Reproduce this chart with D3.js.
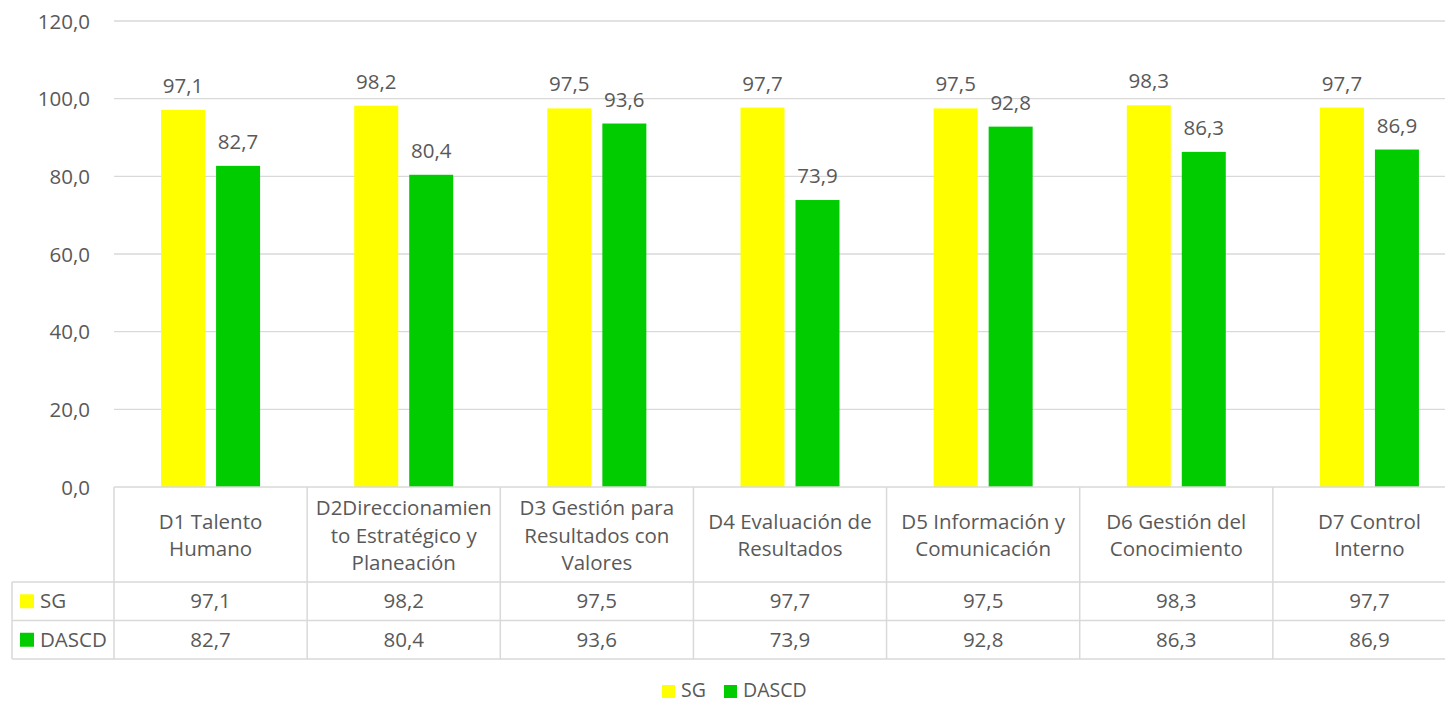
<!DOCTYPE html>
<html><head><meta charset="utf-8">
<script src="https://cdn.jsdelivr.net/npm/d3@7"></script>
<style>
html,body{margin:0;padding:0;background:#fff;overflow:hidden}
text{font-family:"Open Sans",sans-serif;fill:#595959}
</style></head><body>
<svg id="c" width="1445" height="703"></svg>
<script>
const categories = [
  "D1 Talento\nHumano",
  "D2Direccionamien\nto Estratégico y\nPlaneación",
  "D3 Gestión para\nResultados con\nValores",
  "D4 Evaluación de\nResultados",
  "D5 Información y\nComunicación",
  "D6 Gestión del\nConocimiento",
  "D7 Control\nInterno"
];
const seriesNames = ["SG", "DASCD"];
const sgValues = [97.1, 98.2, 97.5, 97.7, 97.5, 98.3, 97.7];
const dascdValues = [82.7, 80.4, 93.6, 73.9, 92.8, 86.3, 86.9];
const yTicks = [0, 20, 40, 60, 80, 100, 120];
const colors = ["#FFFF00", "#00CC00"];

const fmt = v => v.toFixed(1).replace(".", ",");
const series = [sgValues, dascdValues];
const svg = d3.select("#c");
const FS = 20.5;
const grid = "#d9d9d9";

const x = d3.scaleBand().domain(d3.range(categories.length)).range([114, 1466]).paddingInner(0).paddingOuter(0);
const y = d3.scaleLinear().domain([0, 120]).range([487, 21]);
const barW = 44, gap = 11;
const sub = i => x.bandwidth()/2 + (i === 0 ? -gap/2 - barW : gap/2);

// gridlines
svg.append("g").selectAll("line").data(yTicks.filter(t => t > 0)).join("line")
  .attr("x1", 114).attr("x2", 1466).attr("y1", d => y(d)).attr("y2", d => y(d))
  .attr("stroke", grid).attr("stroke-width", 1.3);

// y axis labels
const yAxis = d3.axisLeft(y).tickValues(yTicks).tickFormat(fmt).tickSize(0).tickPadding(24);
const ga = svg.append("g").attr("transform", "translate(114,0)").call(yAxis);
ga.select(".domain").remove();
ga.selectAll("text").attr("font-size", FS).attr("fill", "#595959").attr("font-family", "Open Sans").attr("dy", "0.35em");

// bars
series.forEach((vals, si) => {
  const g = svg.append("g");
  g.selectAll("rect").data(vals).join("rect")
    .attr("x", (d, i) => x(i) + sub(si)).attr("width", barW)
    .attr("y", d => y(d)).attr("height", d => y(0) - y(d))
    .attr("fill", colors[si]);
  g.selectAll("text").data(vals).join("text")
    .attr("x", (d, i) => x(i) + sub(si) + barW/2)
    .attr("y", d => y(d) - 17)
    .attr("text-anchor", "middle").attr("font-size", FS).text(fmt);
});

// data table
const headTop = 487, headBot = 582, rowH = 38.5;
const rowTops = [headBot, headBot + rowH];
const tableBot = headBot + 2*rowH;
const tl = svg.append("g").attr("stroke", grid).attr("stroke-width", 1.5);
tl.append("line").attr("x1", 114).attr("x2", 1466).attr("y1", headTop).attr("y2", headTop);
[headBot, headBot + rowH, tableBot].forEach(yy =>
  tl.append("line").attr("x1", 12).attr("x2", 1466).attr("y1", yy).attr("y2", yy));
tl.append("line").attr("x1", 12).attr("x2", 12).attr("y1", headBot).attr("y2", tableBot);
d3.range(categories.length + 1).forEach(i => {
  const xx = i < categories.length ? x(i) : 1466;
  tl.append("line").attr("x1", xx).attr("x2", xx).attr("y1", headTop).attr("y2", tableBot);
});

// header labels
const hc = (headTop + headBot)/2;
categories.forEach((c, i) => {
  const lines = c.split("\n");
  const t = svg.append("text").attr("text-anchor", "middle").attr("font-size", FS);
  lines.forEach((ln, li) => {
    t.append("tspan").attr("x", x(i) + x.bandwidth()/2)
      .attr("y", hc + (li - (lines.length - 1)/2) * 27.5 + 8).text(ln);
  });
});

// rows
series.forEach((vals, si) => {
  const rc = rowTops[si] + rowH/2;
  svg.append("rect").attr("x", 20).attr("y", rc - 7).attr("width", 14).attr("height", 14).attr("fill", colors[si]);
  svg.append("text").attr("x", 40).attr("y", rc + 7).attr("font-size", FS).text(seriesNames[si]);
  svg.append("g").selectAll("text").data(vals).join("text")
    .attr("x", (d, i) => x(i) + x.bandwidth()/2).attr("y", rc + 7)
    .attr("text-anchor", "middle").attr("font-size", FS).text(fmt);
});

// legend
const leg = svg.append("g");
const legX = [662, 724];
seriesNames.forEach((n, i) => {
  leg.append("rect").attr("x", legX[i]).attr("y", 685).attr("width", 13).attr("height", 13).attr("fill", colors[i]);
  leg.append("text").attr("x", legX[i] + 19).attr("y", 697).attr("font-size", FS - 1).text(n);
});
</script>
</body></html>
